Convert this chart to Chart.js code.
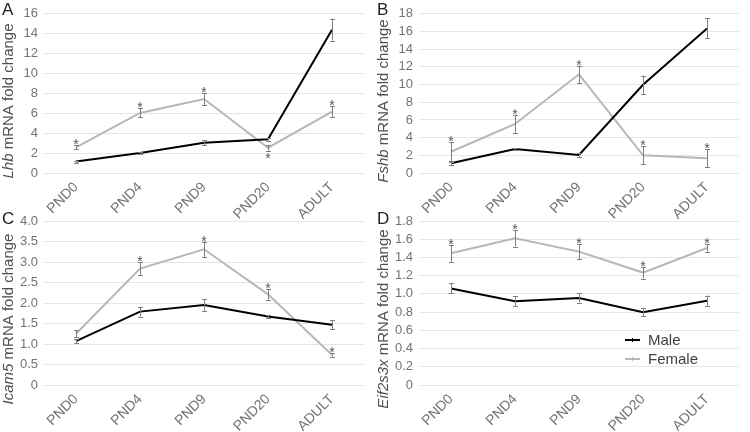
<!DOCTYPE html>
<html>
<head>
<meta charset="utf-8">
<script src="https://cdn.jsdelivr.net/npm/chart.js@4.4.1/dist/chart.umd.min.js"></script>
<style>
  html, body { margin: 0; padding: 0; background: #fff; }
  body { width: 750px; height: 432px; position: relative; overflow: hidden; }
  canvas { position: absolute; }
</style>
</head>
<body>
<canvas id="panel-a" width="375" height="240" style="left:0;top:0"></canvas>
<canvas id="panel-b" width="375" height="240" style="left:375px;top:0"></canvas>
<canvas id="panel-c" width="375" height="232" style="left:0;top:200px"></canvas>
<canvas id="panel-d" width="375" height="232" style="left:375px;top:200px"></canvas>
<script>
// ---------------------------------------------------------------------------
// Data
// ---------------------------------------------------------------------------
const CATEGORIES = ['PND0', 'PND4', 'PND9', 'PND20', 'ADULT'];
const SERIES_NAMES = ['Male', 'Female'];

// A — Lhb
const LHB_MALE       = [1.15, 2.0, 3.04, 3.4, 14.4];
const LHB_MALE_ERR   = [0.1, 0.08, 0.25, 0.15, 1.1];
const LHB_FEMALE     = [2.57, 6.04, 7.43, 2.54, 6.17];
const LHB_FEMALE_ERR = [0.2, 0.45, 0.6, 0.3, 0.55];
const LHB_STARS      = ['above', 'above', 'above', 'below', 'above'];
const LHB_TICKS      = [0, 16, 2];   // min, max, step

// B — Fshb
const FSHB_MALE       = [1.1, 2.7, 2.03, 9.98, 16.35];
const FSHB_MALE_ERR   = [0.15, 0.15, 0.25, 1.03, 1.12];
const FSHB_FEMALE     = [2.4, 5.54, 11.16, 2.0, 1.66];
const FSHB_FEMALE_ERR = [1.05, 1.0, 0.97, 1.0, 1.0];
const FSHB_STARS      = ['above', 'above', 'above', 'above', 'above'];
const FSHB_TICKS      = [0, 18, 2];

// C — Icam5
const ICAM5_MALE       = [1.07, 1.79, 1.95, 1.67, 1.47];
const ICAM5_MALE_ERR   = [0.05, 0.12, 0.14, 0.03, 0.11];
const ICAM5_FEMALE     = [1.25, 2.84, 3.31, 2.21, 0.73];
const ICAM5_FEMALE_ERR = [0.08, 0.15, 0.19, 0.13, 0.04];
const ICAM5_STARS      = [null, 'above', 'above', 'above', 'above'];
const ICAM5_TICKS      = [0, 4, 0.5];

// D — Eif2s3x
const EIF_MALE       = [1.06, 0.92, 0.955, 0.80, 0.925];
const EIF_MALE_ERR   = [0.055, 0.055, 0.05, 0.045, 0.057];
const EIF_FEMALE     = [1.446, 1.61, 1.464, 1.234, 1.504];
const EIF_FEMALE_ERR = [0.093, 0.09, 0.083, 0.066, 0.04];
const EIF_STARS      = ['above', 'above', 'above', 'above', 'above'];
const EIF_TICKS      = [0, 1.8, 0.2];

// ---------------------------------------------------------------------------
// Styling
// ---------------------------------------------------------------------------
const FONT = "'Liberation Sans', Arial, sans-serif";
const MALE_COLOR = '#000000';
const FEMALE_COLOR = '#b7b7b7';
const ERR_COLOR = '#808080';
const TICK_COLOR = '#737373';
const TITLE_COLOR = '#505050';
const GRID_COLOR = '#e6e6e6';

Chart.defaults.font.family = FONT;
Chart.defaults.animation = false;

// Error bars + significance stars, drawn through the chart's own scales
const errorBarPlugin = {
  id: 'errorBars',
  afterDatasetsDraw(chart) {
    const ctx = chart.ctx;
    const y = chart.scales.y;
    ctx.save();
    ctx.strokeStyle = ERR_COLOR;
    ctx.lineWidth = 1;
    chart.data.datasets.forEach((ds, i) => {
      const meta = chart.getDatasetMeta(i);
      meta.data.forEach((pt, j) => {
        const v = ds.data[j];
        const e = ds.errors[j];
        const x = Math.round(pt.x) + 0.5;
        const yTop = y.getPixelForValue(v + e);
        const yBot = y.getPixelForValue(v - e);
        ctx.beginPath();
        ctx.moveTo(x, yTop); ctx.lineTo(x, yBot);
        ctx.moveTo(x - 2.5, Math.round(yTop) + 0.5); ctx.lineTo(x + 2.5, Math.round(yTop) + 0.5);
        ctx.moveTo(x - 2.5, Math.round(yBot) + 0.5); ctx.lineTo(x + 2.5, Math.round(yBot) + 0.5);
        ctx.stroke();

        const star = ds.stars ? ds.stars[j] : null;
        if (star) {
          ctx.fillStyle = '#555';
          ctx.font = `14px ${FONT}`;
          ctx.textAlign = 'center';
          ctx.textBaseline = 'alphabetic';
          const sy = star === 'above' ? yTop + 4 : yBot + 12.5;
          ctx.fillText('*', pt.x, sy);
        }
      });
    });
    ctx.restore();
  },
};

// Panel letter + y-axis title with an italic gene name
const annotationPlugin = {
  id: 'annotations',
  afterDraw(chart, args, opts) {
    const ctx = chart.ctx;
    ctx.save();
    ctx.fillStyle = '#222';
    ctx.font = `17px ${FONT}`;
    ctx.textAlign = 'left';
    ctx.textBaseline = 'alphabetic';
    ctx.fillText(opts.letter, 2, opts.letterY);

    ctx.translate(9, opts.titleY);
    ctx.rotate(-Math.PI / 2);
    ctx.fillStyle = TITLE_COLOR;
    ctx.textBaseline = 'middle';
    const italic = `italic 15px ${FONT}`;
    const normal = `15px ${FONT}`;
    const rest = ' mRNA fold change';
    ctx.font = italic;
    const w1 = ctx.measureText(opts.gene).width;
    ctx.font = normal;
    const w2 = ctx.measureText(rest).width;
    const x0 = -(w1 + w2) / 2;
    ctx.font = italic;
    ctx.fillText(opts.gene, x0, 0);
    ctx.font = normal;
    ctx.fillText(rest, x0 + w1, 0);
    ctx.restore();
  },
};

// Legend placed inside panel D
const legendPlugin = {
  id: 'insetLegend',
  afterDraw(chart, args, opts) {
    if (!opts.show) return;
    const ctx = chart.ctx;
    const colors = [MALE_COLOR, FEMALE_COLOR];
    ctx.save();
    SERIES_NAMES.forEach((name, i) => {
      const ly = opts.y + i * 19;
      ctx.strokeStyle = colors[i];
      ctx.lineWidth = 2;
      ctx.beginPath();
      ctx.moveTo(opts.x, ly); ctx.lineTo(opts.x + 15, ly);
      ctx.stroke();
      ctx.lineWidth = 1;
      ctx.beginPath();
      ctx.moveTo(opts.x + 7.5, ly - 2); ctx.lineTo(opts.x + 7.5, ly + 2);
      ctx.stroke();
      ctx.fillStyle = '#404040';
      ctx.font = `15px ${FONT}`;
      ctx.textAlign = 'left';
      ctx.textBaseline = 'middle';
      ctx.fillText(name, opts.x + 23, ly + 1);
    });
    ctx.restore();
  },
};

function fmtTick(step) {
  return v => (v === 0 ? '0' : (step < 1 ? v.toFixed(1) : String(v)));
}

function buildPanel(id, cfg) {
  const [min, max, step] = cfg.ticks;
  const datasets = [
    { label: SERIES_NAMES[0], data: cfg.male, errors: cfg.maleErr, stars: null, color: MALE_COLOR },
    { label: SERIES_NAMES[1], data: cfg.female, errors: cfg.femaleErr, stars: cfg.stars, color: FEMALE_COLOR },
  ].map(d => ({
    label: d.label,
    data: d.data,
    errors: d.errors,
    stars: d.stars,
    borderColor: d.color,
    backgroundColor: d.color,
    borderWidth: 2,
    pointRadius: 0,
    tension: 0,
  }));

  return new Chart(document.getElementById(id), {
    type: 'line',
    data: { labels: CATEGORIES, datasets },
    options: {
      responsive: false,
      layout: { padding: { top: cfg.padTop, right: 11, left: 0, bottom: 0 } },
      plugins: {
        legend: { display: false },
        tooltip: { enabled: false },
        annotations: { letter: cfg.letter, letterY: cfg.letterY, gene: cfg.gene, titleY: cfg.titleY },
        insetLegend: { show: !!cfg.legend, x: 250, y: 140 },
      },
      scales: {
        x: {
          offset: true,
          grid: { display: false, drawTicks: false },
          border: { display: false },
          ticks: {
            color: TICK_COLOR,
            font: { size: 14 },
            minRotation: 45,
            maxRotation: 45,
            autoSkip: false,
            padding: 6,
          },
          afterFit: s => { s.height = cfg.xHeight; },
        },
        y: {
          min, max,
          grid: { color: GRID_COLOR, drawTicks: false },
          border: { display: false },
          ticks: {
            stepSize: step,
            autoSkip: false,
            color: TICK_COLOR,
            font: { size: 13 },
            padding: 6,
            callback: fmtTick(step),
          },
          afterFit: s => { s.width = 44; },
        },
      },
    },
    plugins: [errorBarPlugin, annotationPlugin, legendPlugin],
  });
}

buildPanel('panel-a', {
  letter: 'A', gene: 'Lhb', ticks: LHB_TICKS,
  male: LHB_MALE, maleErr: LHB_MALE_ERR, female: LHB_FEMALE, femaleErr: LHB_FEMALE_ERR, stars: LHB_STARS,
  padTop: 12, xHeight: 67, letterY: 15, titleY: 101,
});
buildPanel('panel-b', {
  letter: 'B', gene: 'Fshb', ticks: FSHB_TICKS,
  male: FSHB_MALE, maleErr: FSHB_MALE_ERR, female: FSHB_FEMALE, femaleErr: FSHB_FEMALE_ERR, stars: FSHB_STARS,
  padTop: 12, xHeight: 67, letterY: 15, titleY: 101,
});
buildPanel('panel-c', {
  letter: 'C', gene: 'Icam5', ticks: ICAM5_TICKS,
  male: ICAM5_MALE, maleErr: ICAM5_MALE_ERR, female: ICAM5_FEMALE, femaleErr: ICAM5_FEMALE_ERR, stars: ICAM5_STARS,
  padTop: 21, xHeight: 47, letterY: 24, titleY: 119,
});
buildPanel('panel-d', {
  letter: 'D', gene: 'Eif2s3x', ticks: EIF_TICKS,
  male: EIF_MALE, maleErr: EIF_MALE_ERR, female: EIF_FEMALE, femaleErr: EIF_FEMALE_ERR, stars: EIF_STARS,
  padTop: 21, xHeight: 47, letterY: 24, titleY: 119, legend: true,
});
</script>
</body>
</html>
